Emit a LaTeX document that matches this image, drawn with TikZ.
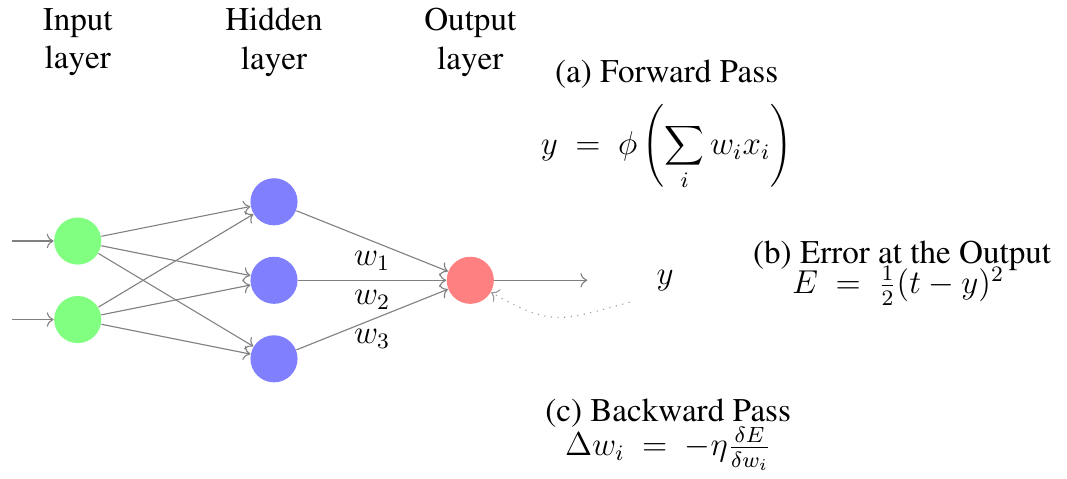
\documentclass[tikz,border=0pt]{standalone}
\usepackage[T1]{fontenc}
\usepackage{times}
\usetikzlibrary{arrows.meta,positioning,calc}

\begin{document}
\begin{tikzpicture}[
 x=1cm,y=1cm,font=\rmfamily\large,
 neuron/.style={circle,minimum size=0.6cm,inner sep=0pt},
 innode/.style={neuron,fill=green!50},
 hidnode/.style={neuron,fill=blue!50},
 outnode/.style={neuron,fill=red!50},
 flow/.style={-{To},draw=black!50},
 feedback/.style={flow,dotted,draw=black!40},
 layer/.style={align=center,inner sep=1pt},
 note/.style={align=center,inner sep=1pt}]
\useasboundingbox (-0.99,-2.52) rectangle (12.6,3.57);
% layer titles
\node[layer] (inlab) at (0,3.03) {Input\\layer};
\node[layer] (hidlab) at (2.5,3.03) {Hidden\\layer};
\node[layer] (outlab) at (5,3.03) {Output\\layer};
% neurons
\node[innode] (I-1) at (0,0.5) {};
\node[innode] (I-2) at (0,-0.5) {};
\node[hidnode] (H-1) at (2.5,1) {};
\node[hidnode] (H-2) at (2.5,0) {};
\node[hidnode] (H-3) at (2.5,-1) {};
\node[outnode] (O) at (5,0) {};
\coordinate (in-1) at (-0.84,0.5);
\coordinate (in-2) at (-0.84,-0.5);
\draw[flow] (in-1) -- (I-1);
\draw[flow] (in-2) -- (I-2);
\draw[flow] (I-1) -- (H-1);
\draw[flow] (I-1) -- (H-2);
\draw[flow] (I-1) -- (H-3);
\draw[flow] (I-2) -- (H-1);
\draw[flow] (I-2) -- (H-2);
\draw[flow] (I-2) -- (H-3);
\draw[flow] (H-1) -- node[below] {$w_1$} (O);
\draw[flow] (H-2) -- node[below] {$w_2$} (O);
\draw[flow] (H-3) -- node[below] {$w_3$} (O);
% output and error signal
\coordinate (yout) at (6.49,0);
\draw[flow] (O) -- (yout);
\node (yval) at (7.48,0) {$y$};
\coordinate (back) at (7.03,-0.28);
\draw[feedback] (back) to[out=195,in=-30,looseness=1.3] (O);
% formulas
\node[note] (fwd) at (7.5,2.62) {(a) Forward Pass};
\node[note] (fwdeq) at (7.5,1.69)
 {$y\ =\ \phi\left(\displaystyle\sum_i w_i x_i\right)$};
\node[note] (err) at (10.5,0.31) {(b) Error at the Output};
\node[note] (erreq) at (10.45,-0.07) {$E\ =\ \frac{1}{2}(t-y)^2$};
\node[note] (bwd) at (7.52,-1.69) {(c) Backward Pass};
\node[note] (bwdeq) at (7.52,-2.15) {$\Delta w_i\ =\ -\eta\frac{\delta E}{\delta w_i}$};
\end{tikzpicture}
\end{document}
